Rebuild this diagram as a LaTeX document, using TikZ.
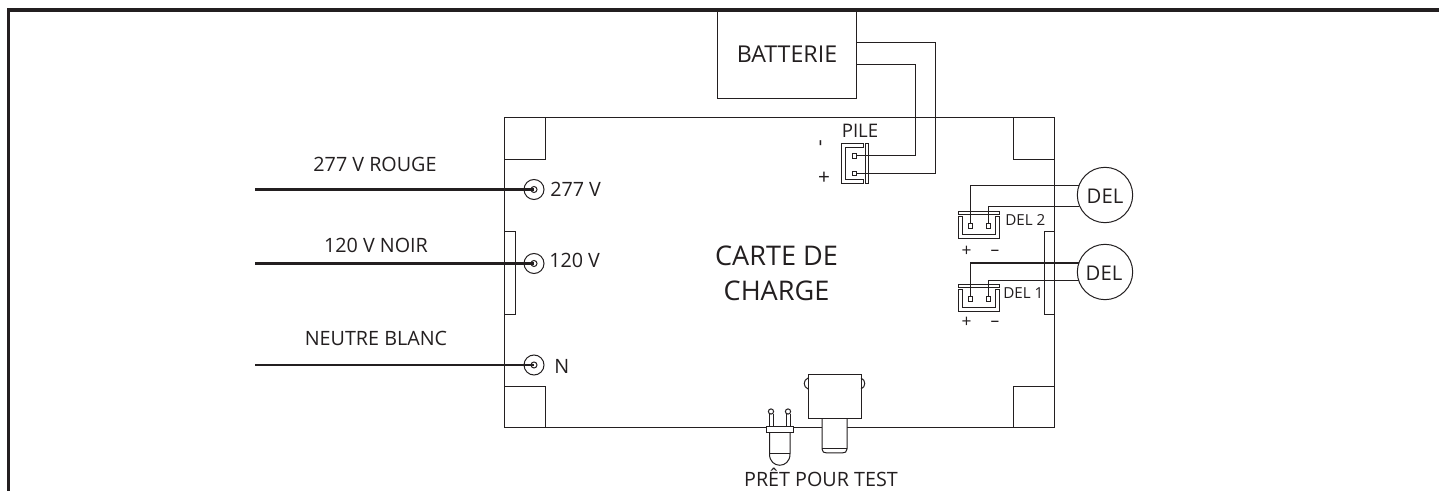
\documentclass[tikz,border=0pt]{standalone}
\usepackage{fontspec}
\setmainfont{Open Sans}
\definecolor{ink}{HTML}{231F20}
\newcommand{\fs}[1]{\fontsize{#1}{#1}\selectfont}
\tikzset{
  wire/.style={draw=ink,line width=.75pt},
  heavy/.style={draw=ink,line width=1.6pt},
  midwire/.style={draw=ink,line width=1.15pt},
  frameline/.style={draw=ink,line width=2.4pt},
  lab/.style={inner sep=0pt,text=ink,anchor=base,font=\fs{14.8}},
  labl/.style={lab,anchor=base west},
  small/.style={inner sep=0pt,text=ink,anchor=base west,font=\fs{11.4}},
  term/.style={circle,wire,minimum size=15pt,inner sep=0pt},
  termpin/.style={circle,wire,minimum size=4.5pt,inner sep=0pt},
  led/.style={circle,wire,fill=white,minimum size=41.5pt,inner sep=0pt},
  pinbox/.style={rectangle,wire,fill=white,minimum size=3.6pt,inner sep=0pt},
}
\begin{document}
\begin{tikzpicture}[x=.75pt,y=-.75pt]
\useasboundingbox (0,0) rectangle (1439,491);
\fill[white] (0,0) rectangle (1439,491);
% board
\draw[wire] (504,118) rectangle (1054,428);
\foreach \a/\b in {504/118,1013/118}{\draw[wire] (\a,\b) rectangle ++(41.5,42);}
\foreach \a/\b in {504/387,1013/387}{\draw[wire] (\a,\b) rectangle ++(41.5,41);}
\draw[wire] (504,232) rectangle (515,315);
\draw[wire] (1044,232) rectangle (1054,315);
% battery
\node[draw=ink,line width=.75pt,fill=white,minimum width=104.5pt,minimum height=65.5pt,inner sep=0pt,anchor=north west] (bat) at (717,10.5) {};
\node[lab,font=\fs{17.4}] at (787,63) {BATTERIE};
% outer frame
\draw[frameline] (8.5,491) -- (8.5,10) -- (1439,10);
% PILE connector
\draw[wire] (863,143.5) -- (841,143.5) -- (841,184) -- (863,184) -- (863,180) -- (845.5,180) -- (845.5,147.5) -- (863,147.5) -- cycle;
\node[pinbox] (pa) at (854.5,156) {};
\node[pinbox] (pb) at (854.5,173.5) {};
\coordinate (ba) at (856,65);
\coordinate (bb) at (856,43);
\draw[wire] (ba) -| (915,156) -- (pa);
\draw[wire] (bb) -| (935,173.5) -- (pb);
\draw[wire] (865,143.5) rectangle (868.5,184);
\node[labl,font=\fs{14}] at (841.5,138) {PILE};
\node[inner sep=0pt,text=ink,font=\fs{15.6},rotate=90] at (823,143) {-};
\node[lab,font=\fs{15.6}] at (824,184.5) {+};
% LEDs
\node[led] (d2) at (1105,195) {};
\node[led] (d1) at (1105,272) {};
\node[lab,font=\fs{15.2}] at (1105,204) {DEL};
\node[lab,font=\fs{15.2}] at (1104,281) {DEL};
\foreach \n/\t in {a/0,b/73}{
  \begin{scope}[yshift=-\t*.75pt]
  \draw[wire] (958,217) -- (958,239) -- (999,239) -- (999,217) -- (995,217) -- (995,235) -- (962,235) -- (962,217) -- cycle;
  \draw[wire] (958,211.5) rectangle (999,214.5);
  \node[pinbox] (x\n) at (970.5,226) {};
  \node[pinbox] (y\n) at (988.5,226) {};
  \end{scope}
}
\draw[wire] (xa) -- (970.5,186) -- (1079,186);
\draw[wire] (ya) -- (988.5,207) -- (1079,207);
\draw[midwire] (xb) -- (970.5,263) -- (1079,263);
\draw[wire] (yb) -- (988.5,281) -- (1079,281);
\node[small] at (1005,226) {DEL 2};
\node[small] at (1003,299) {DEL 1};
\node[lab,font=\fs{13}] at (966.5,257) {+};
\node[lab,font=\fs{13}] at (995,256) {–};
\node[lab,font=\fs{13}] at (966.5,328) {+};
\node[lab,font=\fs{13}] at (995,327) {–};
% input terminals
\foreach \n/\yy in {a/189.5,b/263.5,c/365}{
  \node[term] (t\n) at (534,\yy) {};
  \node[termpin] (p\n) at (534,\yy) {};
  \coordinate (w\n) at (255,\yy);
  \draw[heavy] (w\n) -- (p\n.center);
}
\node[lab] at (375,172) {277 V ROUGE};
\node[lab] at (376,253) {120 V NOIR};
\node[lab] at (376,346) {NEUTRE BLANC};
\node[labl] at (550,197) {277 V};
\node[labl] at (549,268) {120 V};
\node[labl] at (554,374) {N};
% centre label
\node[lab,font=\fs{20.3}] at (776.5,266) {CARTE DE};
\node[lab,font=\fs{20.3}] at (776.5,301) {CHARGE};
% test switch
\fill[white] (822,425) rectangle (847,432);
\draw[wire,fill=white] (822,419) -- (822,449) .. controls (822,452) and (824,453) .. (827,453) -- (842,453) .. controls (845,453) and (847,452) .. (847,449) -- (847,419);
\draw[wire] (822,449) -- (847,449);
\draw[wire,fill=white] (808,375) rectangle (861,419);
\draw[wire] (808,378) .. controls (803,380) and (803,387) .. (808,389);
\draw[wire] (861,378) .. controls (866,380) and (866,387) .. (861,389);
% LED indicator
\draw[wire,fill=white] (769.5,433) -- (769.5,454) .. controls (769.5,469) and (790,469) .. (790,454) -- (790,433);
\draw[wire] (769.5,454) -- (790,454);
\foreach \xx in {771,788}{
  \draw[wire] (\xx-2,427) -- (\xx-2,414) (\xx+2,414) -- (\xx+2,427);
  \draw[wire,fill=white] (\xx,411.5) circle[radius=2.6];
}
\draw[wire,fill=white] (766,427) rectangle (793,433);
\node[lab] at (821,486) {PRÊT POUR TEST};
\end{tikzpicture}
\end{document}
